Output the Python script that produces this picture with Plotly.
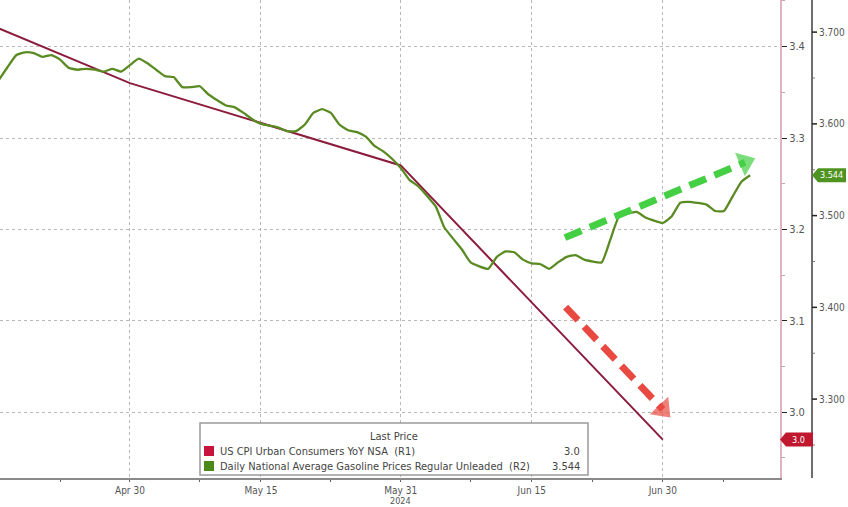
import plotly.graph_objects as go

# ---------------- data ----------------
cpi_dates = ["2024-03-31", "2024-04-30", "2024-05-31", "2024-06-30"]
cpi_values = [3.48, 3.36, 3.27, 2.97]

gas_dates = [
    "2024-04-15", "2024-04-16", "2024-04-17", "2024-04-18", "2024-04-19", "2024-04-20",
    "2024-04-21", "2024-04-22", "2024-04-23", "2024-04-24", "2024-04-25", "2024-04-26",
    "2024-04-27", "2024-04-28", "2024-04-29", "2024-04-30", "2024-05-01", "2024-05-02",
    "2024-05-03", "2024-05-04", "2024-05-05", "2024-05-06", "2024-05-07", "2024-05-08",
    "2024-05-09", "2024-05-11", "2024-05-12", "2024-05-13", "2024-05-14", "2024-05-15",
    "2024-05-17", "2024-05-18", "2024-05-19", "2024-05-20", "2024-05-21", "2024-05-22",
    "2024-05-23", "2024-05-24", "2024-05-25", "2024-05-26", "2024-05-27", "2024-05-28",
    "2024-05-29", "2024-05-30", "2024-05-31", "2024-06-01", "2024-06-02", "2024-06-04",
    "2024-06-05", "2024-06-07", "2024-06-08", "2024-06-10", "2024-06-11", "2024-06-12",
    "2024-06-13", "2024-06-14", "2024-06-15", "2024-06-16", "2024-06-17", "2024-06-18",
    "2024-06-19", "2024-06-20", "2024-06-21", "2024-06-23", "2024-06-24", "2024-06-25",
    "2024-06-27", "2024-06-28", "2024-06-30", "2024-07-01", "2024-07-02", "2024-07-03",
    "2024-07-05", "2024-07-06", "2024-07-07", "2024-07-08", "2024-07-09", "2024-07-10",
]
gas_values = [
    3.648, 3.662, 3.675, 3.678, 3.677, 3.673,
    3.675, 3.670, 3.661, 3.659, 3.660, 3.659,
    3.657, 3.660, 3.657, 3.664, 3.671, 3.666,
    3.659, 3.652, 3.651, 3.640, 3.640, 3.641,
    3.632, 3.620, 3.618, 3.612, 3.605, 3.600,
    3.596, 3.592, 3.592, 3.599, 3.612, 3.616,
    3.612, 3.599, 3.593, 3.591, 3.586, 3.576,
    3.570, 3.562, 3.552, 3.539, 3.532, 3.510,
    3.487, 3.463, 3.449, 3.442, 3.455, 3.461,
    3.460, 3.452, 3.448, 3.447, 3.442, 3.449,
    3.455, 3.457, 3.452, 3.449, 3.474, 3.499,
    3.504, 3.498, 3.492, 3.499, 3.514, 3.515,
    3.512, 3.505, 3.505, 3.521, 3.537, 3.544,
]

x_tick_vals = ["2024-04-30", "2024-05-15", "2024-05-31", "2024-06-15", "2024-06-30"]
x_tick_text = ["Apr 30", "May 15", "May 31", "Jun 15", "Jun 30"]
year_label = "2024"
year_label_date = "2024-05-31"
x_minor_vals = ["2024-04-22", "2024-05-08", "2024-05-23", "2024-06-08", "2024-06-22", "2024-07-07"]

r1_ticks = [3.0, 3.1, 3.2, 3.3, 3.4]
r2_ticks = [3.3, 3.4, 3.5, 3.6, 3.7]
r2_minor_ticks = [3.25, 3.35, 3.45, 3.55, 3.65]

legend_title = "Last Price"
cpi_name = "US CPI Urban Consumers YoY NSA  (R1)"
gas_name = "Daily National Average Gasoline Prices Regular Unleaded  (R2)"
cpi_last_text = "3.0"
gas_last_text = "3.544"

# annotation arrows (start, end)
green_arrow_x = ["2024-06-18 19:00", "2024-07-09 10:00"]
green_arrow_y = [3.476, 3.558]
red_arrow_x = ["2024-06-18 21:00", "2024-06-30 00:00"]
red_arrow_y = [3.115, 3.003]

# ---------------- styling / layout constants ----------------
W, H = 848, 507
MB = 29
PLOT_H = H - MB
X_RANGE = ["2024-04-15 03:00", "2024-07-13 10:00"]
R1_RANGE = [2.928, 3.451]
R2_RANGE = [3.214, 3.735]
R1_AX_PX = 780
R2_AX_PX = 812

FONT = "DejaVu Sans Condensed, Liberation Sans Narrow, Liberation Sans, sans-serif"
TICK_COLOR = "#555555"
GRID = "#b8b8b8"
CPI_COLOR = "#8c1c3e"
GAS_COLOR = "#5a8a22"

fig = go.Figure()

fig.add_trace(go.Scatter(
    x=cpi_dates, y=cpi_values, mode="lines", yaxis="y",
    line=dict(color=CPI_COLOR, width=2), showlegend=False, name=cpi_name,
))
fig.add_trace(go.Scatter(
    x=gas_dates, y=gas_values, mode="lines", yaxis="y2",
    line=dict(color=GAS_COLOR, width=2.3, shape="spline", smoothing=0.4),
    showlegend=False, name=gas_name,
))

# dashed arrows
for ax_x, ax_y, col, yax in [
    (green_arrow_x, green_arrow_y, "#45cf45", "y2"),
    (red_arrow_x, red_arrow_y, "#e84a42", "y"),
]:
    fig.add_trace(go.Scatter(
        x=ax_x, y=ax_y, mode="lines", yaxis=yax,
        line=dict(color=col, width=7, dash="18px,9px"),
        showlegend=False, hoverinfo="skip",
    ))
    fig.add_trace(go.Scatter(
        x=ax_x, y=ax_y, mode="markers", yaxis=yax,
        marker=dict(symbol="triangle-up", size=[0, 22], color=col, angleref="previous",
                    line=dict(width=0)),
        showlegend=False, hoverinfo="skip",
    ))

fig.update_layout(
    width=W, height=H,
    margin=dict(l=0, r=0, t=0, b=MB, autoexpand=False),
    paper_bgcolor="white", plot_bgcolor="white",
    font=dict(family=FONT, size=11, color=TICK_COLOR),
    showlegend=False,
    xaxis=dict(
        type="date", range=X_RANGE, domain=[0, R1_AX_PX / W], automargin=False,
        tickvals=x_tick_vals, ticktext=x_tick_text,
        ticks="outside", ticklen=2, tickcolor="#666666",
        showgrid=True, gridcolor=GRID, griddash="dot", gridwidth=1,
        showline=True, linecolor="#8a8a8a", linewidth=2,
        minor=dict(tickvals=x_minor_vals, ticks="outside", ticklen=2, tickcolor="#666666", showgrid=False),
        tickfont=dict(size=10, color=TICK_COLOR), zeroline=False,
    ),
    yaxis=dict(
        side="right", anchor="x", range=R1_RANGE, automargin=False,
        tickvals=r1_ticks, tickformat=".1f",
        ticks="outside", ticklen=5, tickcolor="#222222",
        showgrid=True, gridcolor=GRID, griddash="dot", gridwidth=1,
        showline=True, linecolor="#dfb3c3", linewidth=2,
        minor=dict(dtick=0.05, ticks="outside", ticklen=3, tickcolor="#cfa0b0", showgrid=False),
        tickfont=dict(size=11, color=TICK_COLOR), zeroline=False,
    ),
    # R2 scale; its line, ticks and labels are drawn below at their own pixel column
    yaxis2=dict(
        overlaying="y", side="right", range=R2_RANGE, automargin=False,
        showticklabels=False, ticks="", showline=False, showgrid=False, zeroline=False,
    ),
)

def px_x(p):
    return p / W

def py(p):
    return (PLOT_H - p) / PLOT_H

# R2 axis line, ticks and labels
fig.add_shape(type="line", xref="paper", yref="paper",
              x0=px_x(R2_AX_PX), x1=px_x(R2_AX_PX), y0=0, y1=1,
              line=dict(color="#6e6e6e", width=2), layer="above")
for t in r2_ticks:
    fig.add_shape(type="line", xref="paper", yref="y2",
                  x0=px_x(R2_AX_PX), x1=px_x(R2_AX_PX + 5), y0=t, y1=t,
                  line=dict(color="#222222", width=1.5))
    fig.add_annotation(x=px_x(R2_AX_PX + 5), y=t, xref="paper", yref="y2",
                       text=f"{t:.3f}", showarrow=False, xanchor="left", yanchor="middle",
                       font=dict(size=10, color=TICK_COLOR, family=FONT))
for t in r2_minor_ticks:
    fig.add_shape(type="line", xref="paper", yref="y2",
                  x0=px_x(R2_AX_PX), x1=px_x(R2_AX_PX + 3), y0=t, y1=t,
                  line=dict(color="#777777", width=1))

# year label under May 31
fig.add_annotation(x=year_label_date, y=-23.5 / PLOT_H, xref="x", yref="paper",
                   text=year_label, showarrow=False, xanchor="center", yanchor="middle",
                   font=dict(size=9, color=TICK_COLOR, family=FONT))

# ---------------- last-price tags ----------------
def tag(y_val, yref, rng, x0_px, x1_px, color, text):
    per_px = (rng[1] - rng[0]) / PLOT_H
    hh = 7 * per_px
    xa, xb, xc = px_x(x0_px), px_x(x0_px + 6), px_x(x1_px)
    path = (f"M {xa},{y_val} L {xb},{y_val + hh} L {xc},{y_val + hh} "
            f"L {xc},{y_val - hh} L {xb},{y_val - hh} Z")
    fig.add_shape(type="path", path=path, xref="paper", yref=yref,
                  fillcolor=color, line=dict(width=0), layer="above")
    fig.add_annotation(x=px_x((x0_px + 4 + x1_px) / 2), y=y_val, xref="paper", yref=yref,
                       text=text, showarrow=False, font=dict(size=9, color="white", family=FONT),
                       xanchor="center", yanchor="middle")

tag(cpi_values[-1], "y", R1_RANGE, R1_AX_PX, R1_AX_PX + 33, "#c0182f", cpi_last_text)
tag(gas_values[-1], "y2", R2_RANGE, R2_AX_PX, R2_AX_PX + 34, "#4f9420", gas_last_text)

# ---------------- legend box ----------------
box_l, box_r, box_t, box_b = 200, 588, 423, 475
fig.add_shape(type="rect", xref="paper", yref="paper",
              x0=px_x(box_l), x1=px_x(box_r), y0=py(box_b), y1=py(box_t),
              fillcolor="white", line=dict(color="#9a9a9a", width=1.5), layer="above")
fig.add_annotation(x=px_x((box_l + box_r) / 2), y=py(436), xref="paper", yref="paper",
                   text=legend_title, showarrow=False, xanchor="center", yanchor="middle",
                   font=dict(size=11, color="#444444", family=FONT))
for row_y, col, name, val in [(451, "#c8143c", cpi_name, cpi_last_text),
                              (466, "#4a8a1a", gas_name, gas_last_text)]:
    fig.add_shape(type="rect", xref="paper", yref="paper",
                  x0=px_x(204), x1=px_x(214), y0=py(row_y + 5), y1=py(row_y - 5),
                  fillcolor=col, line=dict(width=0), layer="above")
    fig.add_annotation(x=px_x(218), y=py(row_y), xref="paper", yref="paper",
                       text=name, showarrow=False, xanchor="left", yanchor="middle",
                       font=dict(size=11, color="#444444", family=FONT))
    fig.add_annotation(x=px_x(582), y=py(row_y), xref="paper", yref="paper",
                       text=val, showarrow=False, xanchor="right", yanchor="middle",
                       font=dict(size=11, color="#444444", family=FONT))

fig.write_html(
    "out.html",
    config={"displayModeBar": False},
    post_script="document.body.style.margin='0';document.body.style.overflow='hidden';",
)
